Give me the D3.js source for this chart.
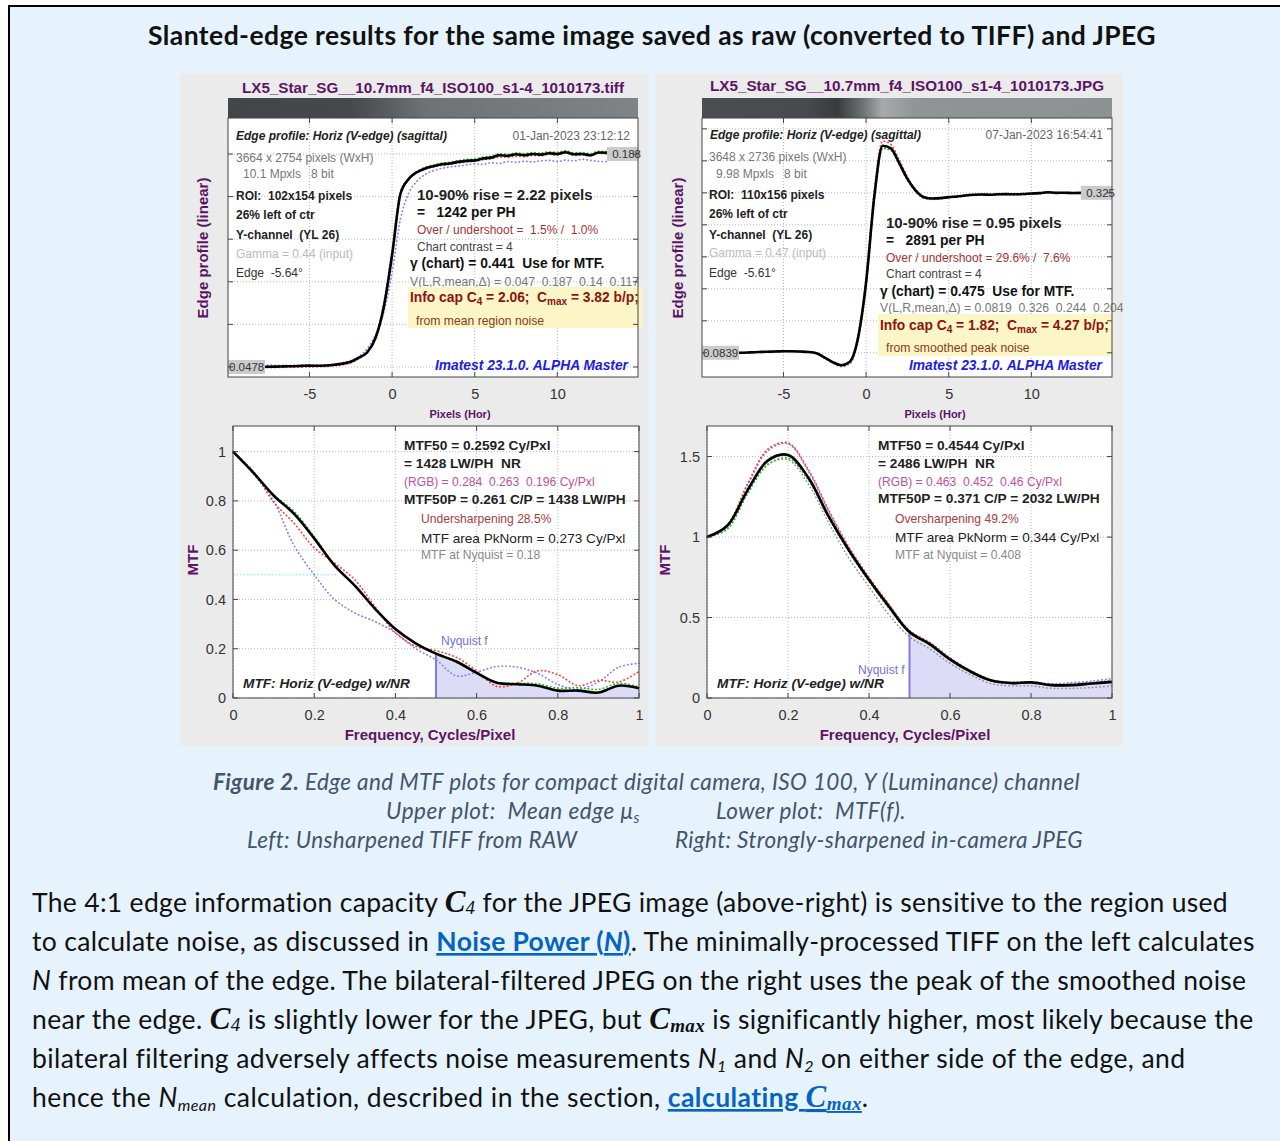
<!DOCTYPE html>
<html>
<head>
<meta charset="utf-8">
<script src="https://cdn.jsdelivr.net/npm/d3@7.9.0/dist/d3.min.js"></script>
<style>
body { margin: 0; background: #fff; }
svg { display: block; }
text { white-space: pre; }
.chart text { font-family: 'Liberation Sans', Arial, sans-serif; }
.title { font-family: Lato, 'Open Sans', sans-serif; font-weight: bold; font-size: 26.5px; fill: #111; }
.cap { font-family: Lato, sans-serif; font-style: italic; font-size: 22.5px; fill: #44546a; }
.capb { font-weight: bold; }
.capsub { font-size: 15px; }
.para { font-family: Lato, sans-serif; font-size: 26.5px; fill: #111; }
.i { font-style: italic; }
.cs { font-family: 'Liberation Serif', serif; font-weight: bold; font-style: italic; font-size: 31px; }
.cs4 { font-family: 'Liberation Serif', serif; font-style: italic; font-size: 19px; }
.csm { font-family: 'Liberation Serif', serif; font-weight: bold; font-style: italic; font-size: 19px; }
.sub { font-style: italic; font-size: 16px; }
.link { fill: #0563c1; font-weight: bold; text-decoration: underline; }
.linki { fill: #0563c1; font-weight: bold; font-style: italic; text-decoration: underline; }
.linkcs { fill: #0563c1; font-family: 'Liberation Serif', serif; font-weight: bold; font-style: italic; font-size: 31px; text-decoration: underline; }
.linkcsm { fill: #0563c1; font-family: 'Liberation Serif', serif; font-weight: bold; font-style: italic; font-size: 19px; text-decoration: underline; }
.fname { font-size: 14px; font-weight: bold; fill: #5b1466; }
.axlab { font-size: 15px; font-weight: bold; fill: #5b1466; }
.pxlab { font-size: 11px; font-weight: bold; fill: #5b1466; }
.freqlab { font-size: 15px; font-weight: bold; fill: #5b1466; }
.tick text { font-size: 14.5px; fill: #333; font-family: 'Liberation Sans', Arial, sans-serif; }
.hdr { font-size: 12px; font-weight: bold; font-style: italic; fill: #222; }
.date { font-size: 12px; fill: #666; }
.meta { font-size: 12px; fill: #777; }
.metab { font-size: 12px; font-weight: bold; fill: #222; }
.gam { font-size: 12px; fill: #bbb; }
.plain { font-size: 12px; fill: #333; }
.rise { font-size: 15px; font-weight: bold; fill: #222; }
.perph { font-size: 13.8px; font-weight: bold; fill: #111; }
.over { font-size: 12px; fill: #a03535; }
.contrast { font-size: 12px; fill: #444; }
.gamma { font-size: 13.8px; font-weight: bold; fill: #111; }
.vlr { font-size: 12.2px; fill: #777; }
.info { font-size: 13.8px; font-weight: bold; fill: #8a1414; }
.infosub { font-size: 10px; }
.noise { font-size: 12.2px; fill: #8a3a20; }
.imatest { font-size: 13.8px; font-weight: bold; font-style: italic; fill: #1d1de0; }
.mtfb { font-size: 13.7px; font-weight: bold; fill: #222; }
.rgb { font-size: 12.1px; fill: #c050a0; }
.sharp { font-size: 12.1px; fill: #a83a3a; }
.area { font-size: 13.6px; fill: #222; }
.nyq { font-size: 12.1px; fill: #888; }
.mtfttl { font-size: 13.7px; font-weight: bold; font-style: italic; fill: #222; }
.nyqf { font-size: 12px; fill: #7272d6; }
.minmax { font-size: 11.5px; fill: #333; }
</style>
</head>
<body>
<svg id="page" width="1280" height="1141"></svg>
<script>
// ---- data ----
const edgePx = [-8, -7.5, -7, -6.5, -6, -5.5, -5, -4.5, -4, -3.5, -3, -2.5, -2, -1.5, -1, -0.5, 0, 0.5, 1, 1.5, 2,
  2.5, 3, 3.5, 4, 4.5, 5, 5.5, 6, 6.5, 7, 7.5, 8, 8.5, 9, 9.5, 10, 10.5, 11, 11.5, 12, 12.5, 13];
const edgeTicks = [-5, 0, 5, 10];

const tiffEdgeY = [.0478, .0479, .0480, .0482, .0483, .0485, .0487, .0486, .0488, .0493, .0500, .0512, .0540, .0575, .0670, .0875, .1215, .1615, .1715, .1760, .1785,
  .1800, .1812, .1818, .1828, .1835, .1838, .1850, .1856, .1872, .1868, .1878, .1872, .1880, .1876, .1885, .1880, .1892, .1878, .1880, .1872, .1890, .1888];
const tiffEdgeR = [.0472, .0473, .0474, .0476, .0476, .0478, .0478, .0479, .0481, .0486, .0493, .0505, .0533, .0575, .0680, .0900, .1250, .1630, .1715, .1758, .1780,
  .1795, .1805, .1812, .1820, .1828, .1832, .1842, .1848, .1860, .1858, .1866, .1862, .1870, .1868, .1878, .1872, .1888, .1870, .1875, .1868, .1885, .1880];
const tiffEdgeG = [.0480, .0481, .0482, .0484, .0485, .0487, .0489, .0488, .0490, .0495, .0502, .0515, .0543, .0580, .0672, .0870, .1210, .1605, .1712, .1765, .1792,
  .1808, .1820, .1826, .1836, .1844, .1847, .1860, .1866, .1882, .1878, .1888, .1882, .1890, .1886, .1895, .1890, .1902, .1888, .1890, .1882, .1898, .1896];
const tiffEdgeB = [.0490, .0490, .0489, .0488, .0489, .0488, .0487, .0487, .0490, .0495, .0505, .0520, .0548, .0600, .0690, .0840, .1100, .1450, .1620, .1700, .1745,
  .1770, .1785, .1795, .1800, .1808, .1815, .1812, .1822, .1818, .1830, .1825, .1832, .1828, .1835, .1838, .1830, .1840, .1835, .1845, .1838, .1832, .1830];

const jpgEdgeY = [.0839, .0840, .0845, .0850, .0855, .0858, .0862, .0862, .0858, .0852, .0832, .0765, .0695, .0652, .0700, .1050, .1900, .3200, .3960, .3920, .3700,
  .3460, .3285, .3185, .3165, .3170, .3185, .3195, .3210, .3220, .3225, .3222, .3228, .3230, .3228, .3232, .3240, .3245, .3258, .3250, .3252, .3248, .3250];
const jpgEdgeR = [.0830, .0835, .0838, .0845, .0850, .0855, .0858, .0860, .0855, .0848, .0828, .0760, .0688, .0645, .0700, .1080, .1980, .3300, .4030, .3980, .3750,
  .3490, .3300, .3195, .3170, .3172, .3188, .3198, .3212, .3222, .3228, .3225, .3230, .3232, .3230, .3235, .3242, .3248, .3260, .3252, .3255, .3250, .3252];
const jpgEdgeG = [.0840, .0841, .0846, .0851, .0856, .0859, .0863, .0863, .0859, .0853, .0834, .0768, .0700, .0658, .0705, .1040, .1880, .3170, .3920, .3890, .3680,
  .3450, .3280, .3183, .3165, .3170, .3185, .3195, .3210, .3220, .3225, .3222, .3228, .3230, .3228, .3232, .3240, .3245, .3258, .3250, .3252, .3248, .3250];
const jpgEdgeB = [.0842, .0843, .0846, .0850, .0854, .0856, .0860, .0860, .0856, .0848, .0825, .0755, .0680, .0630, .0670, .1000, .1850, .3150, .3930, .3900, .3680,
  .3440, .3270, .3170, .3150, .3158, .3175, .3185, .3200, .3210, .3215, .3212, .3218, .3220, .3218, .3222, .3230, .3235, .3248, .3240, .3242, .3238, .3240];

const mtfFreq = [0, 0.05, 0.1, 0.15, 0.2, 0.25, 0.3, 0.35, 0.4, 0.45, 0.5, 0.55, 0.6, 0.65, 0.7, 0.75, 0.8, 0.85, 0.9, 0.95, 1];
const freqTicks = [0, 0.2, 0.4, 0.6, 0.8, 1];

const tiffMtfY = [1.000, .915, .822, .748, .648, .538, .456, .362, .280, .222, .180, .148, .102, .062, .056, .050, .030, .030, .022, .050, .040];
const tiffMtfR = [1.000, .920, .795, .710, .610, .548, .480, .370, .265, .210, .192, .165, .110, .047, .060, .110, .095, .050, .072, .065, .108];
const tiffMtfG = [1.000, .915, .825, .758, .655, .540, .458, .362, .279, .222, .180, .145, .100, .062, .060, .058, .040, .042, .035, .060, .045];
const tiffMtfB = [1.000, .910, .800, .620, .500, .400, .345, .310, .265, .200, .155, .090, .105, .128, .125, .100, .055, .035, .065, .125, .141];
const tiffMtfTicks = [0, 0.2, 0.4, 0.6, 0.8, 1];
const tiffMtf50 = 0.2592;

const jpgMtfY = [1.0, 1.07, 1.29, 1.475, 1.51, 1.37, 1.13, .92, .735, .565, .41, .335, .24, .165, .11, .093, .097, .080, .080, .090, .100];
const jpgMtfR = [1.0, 1.075, 1.33, 1.545, 1.585, 1.42, 1.17, .94, .75, .58, .42, .345, .25, .172, .115, .097, .100, .085, .088, .095, .110];
const jpgMtfG = [1.0, 1.05, 1.27, 1.45, 1.49, 1.355, 1.12, .91, .725, .555, .405, .33, .236, .162, .108, .090, .095, .078, .080, .088, .098];
const jpgMtfB = [1.0, 1.07, 1.32, 1.535, 1.58, 1.41, 1.16, .93, .74, .575, .415, .34, .245, .17, .112, .095, .098, .088, .095, .105, .120];
const jpgMtfGray = [1.0, 1.05, 1.27, 1.45, 1.48, 1.33, 1.09, .87, .69, .515, .38, .305, .215, .145, .09, .075, .075, .06, .06, .065, .075];
const jpgMtfTicks = [0, 0.5, 1, 1.5];

const svg = d3.select('#page');
const defs = svg.append('defs');

// write a text element made of styled runs; shift = baseline drop in px
function runs(t, parts) {
  let prev = 0;
  parts.forEach(([s, cls, shift = 0]) => {
    t.append('tspan').attr('class', cls).attr('dy', shift - prev).text(s);
    prev = shift;
  });
  return t;
}

// stretch/squeeze letter spacing so a line spans the measured width
function fit(t, w) {
  const n = t.node();
  const len = n.getComputedTextLength();
  const chars = n.textContent.length;
  t.attr('letter-spacing', ((w - len) / chars).toFixed(3));
  return t;
}

// page frame
svg.append('rect').attr('x', 9).attr('y', 6).attr('width', 1290).attr('height', 1150)
  .attr('fill', '#e6f3fd').attr('stroke', '#000').attr('stroke-width', 2);

fit(svg.append('text').attr('class', 'title').attr('x', 148).attr('y', 45)
  .text('Slanted-edge results for the same image saved as raw (converted to TIFF) and JPEG'), 1008);

const chart = svg.append('g').attr('class', 'chart');

const dotted = [
  {key: 'gray', color: '#8c8c8c', w: 1.5},
  {key: 'B', color: '#7f7fff', w: 1.7},
  {key: 'R', color: '#ff3a3a', w: 1.7},
  {key: 'G', color: '#10c810', w: 1.7}
];

function panel(p) {
  defs.append('clipPath').attr('id', 'clip-' + p.id)
    .append('rect').attr('x', p.px).attr('y', 74).attr('width', 468).attr('height', 672);
  const g = chart.append('g').attr('clip-path', `url(#clip-${p.id})`);
  g.append('rect').attr('x', p.px).attr('y', 74).attr('width', 468).attr('height', 672).attr('fill', '#ebebeb');
  return g;
}

function drawCurves(g, keys, data, line) {
  const curves = g.append('g').attr('fill', 'none');
  dotted.filter(s => data[s.key]).forEach(s =>
    curves.append('path').attr('d', line(data[s.key])).attr('stroke', s.color).attr('stroke-width', s.w)
      .attr('stroke-dasharray', '0.4 3.4').attr('stroke-linecap', 'round'));
  curves.append('path').attr('d', line(data.Y)).attr('stroke', '#000').attr('stroke-width', 2.6);
}

function edgePlot(g, c) {
  const x = d3.scaleLinear().domain([-9.93, 14.88]).range([c.x0, c.x1]);
  const y = d3.scaleLinear().domain(c.yDom).range([c.y1, c.y0]);

  g.append('text').attr('class', 'fname').attr('x', (c.x0 + c.x1) / 2).attr('y', c.fnY)
    .attr('text-anchor', 'middle').attr('textLength', c.fnW).attr('lengthAdjust', 'spacingAndGlyphs').text(c.file);

  const grad = defs.append('linearGradient').attr('id', 'bar-' + c.id);
  c.bar.forEach(([o, col]) => grad.append('stop').attr('offset', o).attr('stop-color', col));
  g.append('rect').attr('x', c.x0).attr('y', c.y0 - 20).attr('width', c.x1 - c.x0).attr('height', 20)
    .attr('fill', `url(#bar-${c.id})`);

  g.append('rect').attr('x', c.x0).attr('y', c.y0).attr('width', c.x1 - c.x0).attr('height', c.y1 - c.y0).attr('fill', '#fff');

  const step = (c.hi - c.lo) / 5;
  const levels = d3.range(0, 9).map(k => c.lo + k * step).filter(v => v < c.yDom[1]);
  const grid = g.append('g').attr('stroke', '#b8b8b8').attr('stroke-dasharray', '1 2').attr('stroke-width', 1);
  edgeTicks.forEach(t => grid.append('line').attr('x1', x(t)).attr('x2', x(t)).attr('y1', c.y0).attr('y2', c.y1));
  levels.forEach(v => grid.append('line').attr('x1', c.x0).attr('x2', c.x1).attr('y1', y(v)).attr('y2', y(v)));

  // annotations under the curves
  c.notes.forEach(([nx, ny, txt, cls, anchor]) =>
    g.append('text').attr('class', cls).attr('x', nx).attr('y', ny).attr('text-anchor', anchor || 'start').text(txt));
  g.append('rect').attr('x', c.box[0]).attr('y', c.box[1]).attr('width', c.box[2]).attr('height', c.box[3]).attr('fill', '#fcf6c6');
  runs(g.append('text').attr('class', 'info').attr('x', c.infoX).attr('y', c.infoY), c.info);
  g.append('text').attr('class', 'noise').attr('x', c.infoX + 6).attr('y', c.infoY + 22.5).text(c.noise);

  const line = d3.line().x((d, i) => x(edgePx[i])).y(d => y(d)).curve(d3.curveMonotoneX);
  drawCurves(g, null, c.data, line);

  g.append('text').attr('class', 'imatest').attr('x', c.imX).attr('y', 370).text('Imatest 23.1.0. ALPHA Master');

  // min / max labels
  const fmt = v => String(v);
  g.append('rect').attr('x', c.x0).attr('y', y(c.lo) - 7).attr('width', 37).attr('height', 14).attr('fill', '#cbcbcb');
  g.append('text').attr('class', 'minmax').attr('x', c.x0 + 1).attr('y', y(c.lo) + 4).text(fmt(c.lo));
  g.append('rect').attr('x', c.x1 - 31).attr('y', y(c.hi) - 7).attr('width', 31).attr('height', 14).attr('fill', '#cbcbcb');
  g.append('text').attr('class', 'minmax').attr('x', c.x1 + 3).attr('y', y(c.hi) + 4).attr('text-anchor', 'end').text(fmt(c.hi));

  // frame and inner ticks
  g.append('rect').attr('x', c.x0).attr('y', c.y0).attr('width', c.x1 - c.x0).attr('height', c.y1 - c.y0)
    .attr('fill', 'none').attr('stroke', '#444');
  const tk = g.append('g').attr('stroke', '#444');
  edgeTicks.forEach(t => {
    tk.append('line').attr('x1', x(t)).attr('x2', x(t)).attr('y1', c.y0).attr('y2', c.y0 + 5);
    tk.append('line').attr('x1', x(t)).attr('x2', x(t)).attr('y1', c.y1).attr('y2', c.y1 - 5);
  });
  levels.forEach(v => {
    tk.append('line').attr('x1', c.x0).attr('x2', c.x0 + 5).attr('y1', y(v)).attr('y2', y(v));
    tk.append('line').attr('x1', c.x1).attr('x2', c.x1 - 5).attr('y1', y(v)).attr('y2', y(v));
  });

  const ax = g.append('g').attr('class', 'tick').attr('transform', `translate(0,${c.y1})`)
    .call(d3.axisBottom(x).tickValues(edgeTicks).tickSize(0).tickPadding(12).tickFormat(d => String(d)));
  ax.select('.domain').remove();
  ax.selectAll('text').attr('font-family', null).attr('font-size', null);

  g.append('text').attr('class', 'pxlab').attr('x', c.pxLabX).attr('y', 417.5).attr('text-anchor', 'middle')
    .text('Pixels (Hor)');
  g.append('text').attr('class', 'axlab').attr('transform', `translate(${c.ylabX},248) rotate(-90)`)
    .attr('text-anchor', 'middle').attr('dy', '0.35em').text('Edge profile (linear)');
}

function mtfPlot(g, c) {
  const x = d3.scaleLinear().domain([0, 1]).range([c.x0, c.x1]);
  const y = d3.scaleLinear().domain(c.yDom).range([c.y1, c.y0]);

  g.append('rect').attr('x', c.x0).attr('y', c.y0).attr('width', c.x1 - c.x0).attr('height', c.y1 - c.y0).attr('fill', '#fff');
  const grid = g.append('g').attr('stroke', '#b8b8b8').attr('stroke-dasharray', '1 2');
  freqTicks.forEach(t => grid.append('line').attr('x1', x(t)).attr('x2', x(t)).attr('y1', c.y0).attr('y2', c.y1));
  c.yTicks.forEach(v => grid.append('line').attr('x1', c.x0).attr('x2', c.x1).attr('y1', y(v)).attr('y2', y(v)));

  const curve = d3.curveCatmullRom.alpha(0.5);
  // shaded region beyond Nyquist
  const nyq = mtfFreq.map((f, i) => [f, c.data.Y[i]]).filter(d => d[0] >= 0.5);
  g.append('path').attr('d', d3.area().x(d => x(d[0])).y0(y(0)).y1(d => y(d[1])).curve(curve)(nyq))
    .attr('fill', '#dcdcf7');
  g.append('line').attr('x1', x(0.5)).attr('x2', x(0.5)).attr('y1', y(0)).attr('y2', y(nyq[0][1]))
    .attr('stroke', '#7c7ce4').attr('stroke-width', 2);

  if (c.mtf50) {
    g.append('line').attr('x1', x(0)).attr('x2', x(c.mtf50)).attr('y1', y(0.5)).attr('y2', y(0.5))
      .attr('stroke', '#6fe3ff').attr('stroke-dasharray', '1.5 2');
  }

  c.notes.forEach(([nx, ny, txt, cls]) => g.append('text').attr('class', cls).attr('x', nx).attr('y', ny).text(txt));

  const line = d3.line().x((d, i) => x(mtfFreq[i])).y(d => y(d)).curve(curve);
  drawCurves(g, null, c.data, line);

  g.append('rect').attr('x', c.x0).attr('y', c.y0).attr('width', c.x1 - c.x0).attr('height', c.y1 - c.y0)
    .attr('fill', 'none').attr('stroke', '#444');
  const tk = g.append('g').attr('stroke', '#444');
  freqTicks.forEach(t => {
    tk.append('line').attr('x1', x(t)).attr('x2', x(t)).attr('y1', c.y0).attr('y2', c.y0 + 5);
    tk.append('line').attr('x1', x(t)).attr('x2', x(t)).attr('y1', c.y1).attr('y2', c.y1 - 5);
  });
  c.yTicks.forEach(v => {
    tk.append('line').attr('x1', c.x0).attr('x2', c.x0 + 5).attr('y1', y(v)).attr('y2', y(v));
    tk.append('line').attr('x1', c.x1).attr('x2', c.x1 - 5).attr('y1', y(v)).attr('y2', y(v));
  });

  const ax = g.append('g').attr('class', 'tick').attr('transform', `translate(0,${c.y1})`)
    .call(d3.axisBottom(x).tickValues(freqTicks).tickSize(0).tickPadding(12).tickFormat(d => String(d)));
  ax.select('.domain').remove();
  ax.selectAll('text').attr('font-family', null).attr('font-size', null);
  const ay = g.append('g').attr('class', 'tick').attr('transform', `translate(${c.x0},0)`)
    .call(d3.axisLeft(y).tickValues(c.yTicks).tickSize(0).tickPadding(c.yPad).tickFormat(d => String(d)));
  ay.select('.domain').remove();
  ay.selectAll('text').attr('font-family', null).attr('font-size', null);

  g.append('text').attr('class', 'freqlab').attr('x', c.freqX).attr('y', 740).attr('text-anchor', 'middle')
    .text('Frequency, Cycles/Pixel');
  g.append('text').attr('class', 'axlab').attr('transform', `translate(${c.ylabX},560) rotate(-90)`)
    .attr('text-anchor', 'middle').attr('dy', '0.35em').text('MTF');
}

// ---- left: TIFF ----
const gl = panel({id: 'tiff', px: 180});
edgePlot(gl, {
  id: 'tiff', x0: 228, x1: 638, y0: 118, y1: 377, yDom: [0.0412, 0.2117], lo: 0.0478, hi: 0.188,
  file: 'LX5_Star_SG__10.7mm_f4_ISO100_s1-4_1010173.tiff', fnY: 92.5, fnW: 382,
  bar: [[0, '#42464a'], [0.3, '#45494d'], [0.4, '#5a5f63'], [0.48, '#6d7276'], [1, '#7f8488']],
  data: {Y: tiffEdgeY, R: tiffEdgeR, G: tiffEdgeG, B: tiffEdgeB},
  notes: [
    [236, 140, 'Edge profile: Horiz (V-edge) (sagittal)', 'hdr'],
    [630, 140, '01-Jan-2023 23:12:12', 'date', 'end'],
    [236, 162, '3664 x 2754 pixels (WxH)', 'meta'],
    [243, 178, '10.1 Mpxls   8 bit', 'meta'],
    [236, 199.5, 'ROI:  102x154 pixels', 'metab'],
    [236, 219, '26% left of ctr', 'metab'],
    [236, 239, 'Y-channel  (YL 26)', 'metab'],
    [236, 258, 'Gamma = 0.44 (input)', 'gam'],
    [236, 277, 'Edge  -5.64°', 'plain'],
    [417, 200, '10-90% rise = 2.22 pixels', 'rise'],
    [417, 217, '=   1242 per PH', 'perph'],
    [417, 234, 'Over / undershoot =  1.5% /  1.0%', 'over'],
    [417, 251, 'Chart contrast = 4', 'contrast'],
    [410, 268, 'γ (chart) = 0.441  Use for MTF.', 'gamma'],
    [410, 285.5, 'V(L,R,mean,Δ) = 0.047  0.187  0.14  0.117', 'vlr']
  ],
  box: [408, 287, 234, 41], infoX: 410, infoY: 302,
  info: [['Info cap C'], ['4', 'infosub', 3], [' = 2.06;  C'], ['max', 'infosub', 3], [' = 3.82 b/p;']],
  noise: 'from mean region noise', imX: 435, pxLabX: 460, ylabX: 203
});
mtfPlot(gl, {
  x0: 233, x1: 639, y0: 426, y1: 698, yDom: [0, 1.104], yTicks: tiffMtfTicks, yPad: 7, mtf50: tiffMtf50,
  data: {Y: tiffMtfY, R: tiffMtfR, G: tiffMtfG, B: tiffMtfB},
  notes: [
    [404, 450, 'MTF50 = 0.2592 Cy/Pxl', 'mtfb'],
    [404, 468, '= 1428 LW/PH  NR', 'mtfb'],
    [404, 485.5, '(RGB) = 0.284  0.263  0.196 Cy/Pxl', 'rgb'],
    [404, 503.5, 'MTF50P = 0.261 C/P = 1438 LW/PH', 'mtfb'],
    [421, 523, 'Undersharpening 28.5%', 'sharp'],
    [421, 542.5, 'MTF area PkNorm = 0.273 Cy/Pxl', 'area'],
    [421, 559, 'MTF at Nyquist = 0.18', 'nyq'],
    [441, 644.5, 'Nyquist f', 'nyqf'],
    [243, 688, 'MTF: Horiz (V-edge) w/NR', 'mtfttl']
  ],
  freqX: 430, ylabX: 193
});

// ---- right: JPEG ----
const gr = panel({id: 'jpg', px: 655});
edgePlot(gr, {
  id: 'jpg', x0: 702, x1: 1112, y0: 118, y1: 377, yDom: [0.0474, 0.4378], lo: 0.0839, hi: 0.325,
  file: 'LX5_Star_SG__10.7mm_f4_ISO100_s1-4_1010173.JPG', fnY: 90.5, fnW: 394,
  bar: [[0, '#4a4e52'], [0.25, '#474b4f'], [0.33, '#383c3f'], [0.39, '#6a6f72'], [0.44, '#a6aaac'], [0.52, '#8f9497'], [1, '#8c9194']],
  data: {Y: jpgEdgeY, R: jpgEdgeR, G: jpgEdgeG, B: jpgEdgeB},
  notes: [
    [710, 139, 'Edge profile: Horiz (V-edge) (sagittal)', 'hdr'],
    [1103, 139, '07-Jan-2023 16:54:41', 'date', 'end'],
    [709, 161, '3648 x 2736 pixels (WxH)', 'meta'],
    [716, 178, '9.98 Mpxls   8 bit', 'meta'],
    [709, 199, 'ROI:  110x156 pixels', 'metab'],
    [709, 218, '26% left of ctr', 'metab'],
    [709, 239, 'Y-channel  (YL 26)', 'metab'],
    [709, 257, 'Gamma = 0.47 (input)', 'gam'],
    [709, 277, 'Edge  -5.61°', 'plain'],
    [886, 227.5, '10-90% rise = 0.95 pixels', 'rise'],
    [886, 244.5, '=   2891 per PH', 'perph'],
    [886, 261.5, 'Over / undershoot = 29.6% /  7.6%', 'over'],
    [886, 278, 'Chart contrast = 4', 'contrast'],
    [880, 295.5, 'γ (chart) = 0.475  Use for MTF.', 'gamma'],
    [880, 312, 'V(L,R,mean,Δ) = 0.0819  0.326  0.244  0.204', 'vlr']
  ],
  box: [878, 314, 235, 42], infoX: 880, infoY: 329.5,
  info: [['Info cap C'], ['4', 'infosub', 3], [' = 1.82;  C'], ['max', 'infosub', 3], [' = 4.27 b/p;']],
  noise: 'from smoothed peak noise', imX: 909, pxLabX: 935, ylabX: 678
});
mtfPlot(gr, {
  x0: 707, x1: 1112, y0: 426, y1: 698, yDom: [0, 1.69], yTicks: jpgMtfTicks, yPad: 7,
  data: {Y: jpgMtfY, R: jpgMtfR, G: jpgMtfG, B: jpgMtfB, gray: jpgMtfGray},
  notes: [
    [878, 449.5, 'MTF50 = 0.4544 Cy/Pxl', 'mtfb'],
    [878, 468, '= 2486 LW/PH  NR', 'mtfb'],
    [878, 485.5, '(RGB) = 0.463  0.452  0.46 Cy/Pxl', 'rgb'],
    [878, 503, 'MTF50P = 0.371 C/P = 2032 LW/PH', 'mtfb'],
    [895, 523, 'Oversharpening 49.2%', 'sharp'],
    [895, 541.5, 'MTF area PkNorm = 0.344 Cy/Pxl', 'area'],
    [895, 558.5, 'MTF at Nyquist = 0.408', 'nyq'],
    [858, 674, 'Nyquist f', 'nyqf'],
    [717, 688, 'MTF: Horiz (V-edge) w/NR', 'mtfttl']
  ],
  freqX: 905, ylabX: 665
});

// ---- caption ----
fit(runs(svg.append('text').attr('class', 'cap').attr('x', 213).attr('y', 790),
  [['Figure 2.', 'capb'], [' Edge and MTF plots for compact digital camera, ISO 100, Y (Luminance) channel']]), 867);
fit(runs(svg.append('text').attr('class', 'cap').attr('x', 386).attr('y', 819),
  [['Upper plot:  Mean edge μ'], ['s', 'capsub', 4]]), 254);
fit(svg.append('text').attr('class', 'cap').attr('x', 716).attr('y', 819).text('Lower plot:  MTF(f).'), 190);
fit(svg.append('text').attr('class', 'cap').attr('x', 247).attr('y', 848).text('Left: Unsharpened TIFF from RAW'), 330);
fit(svg.append('text').attr('class', 'cap').attr('x', 675).attr('y', 848).text('Right: Strongly-sharpened in-camera JPEG'), 408);

// ---- paragraph ----
const paraLines = [
  [[['The 4:1 edge information capacity '], ['C', 'cs'], ['4', 'cs4', 2], [' for the JPEG image (above-right) is sensitive to the region used']], 1197],
  [[['to calculate noise, as discussed in '], ['Noise Power (', 'link'], ['N', 'linki'], [')', 'link'], ['. The minimally-processed TIFF on the left calculates']], 1222],
  [[['N', 'i'], [' from mean of the edge. The bilateral-filtered JPEG on the right uses the peak of the smoothed noise']], 1214],
  [[['near the edge. '], ['C', 'cs'], ['4', 'cs4', 2], [' is slightly lower for the JPEG, but '], ['C', 'cs'], ['max', 'csm', 3], [' is significantly higher, most likely because the']], 1221],
  [[['bilateral filtering adversely affects noise measurements '], ['N', 'i'], ['1', 'sub', 4], [' and '], ['N', 'i'], ['2', 'sub', 4], [' on either side of the edge, and']], 1152],
  [[['hence the '], ['N', 'i'], ['mean', 'sub', 4], [' calculation, described in the section, '], ['calculating ', 'link'], ['C', 'linkcs'], ['max', 'linkcsm', 3], ['.']], 838]
];
paraLines.forEach(([parts, w], i) => {
  fit(runs(svg.append('text').attr('class', 'para').attr('x', 32).attr('y', 912 + i * 39), parts), w);
});
</script>
</body>
</html>
